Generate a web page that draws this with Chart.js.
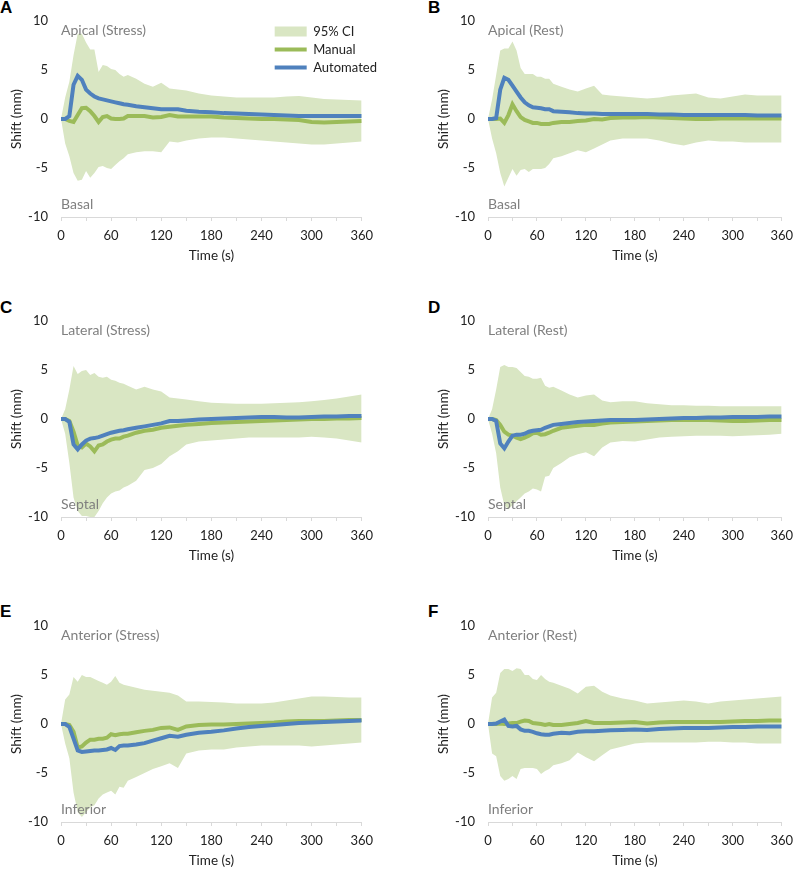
<!DOCTYPE html>
<html>
<head>
<meta charset="utf-8">
<script src="https://cdn.jsdelivr.net/npm/chart.js@4.4.0/dist/chart.umd.min.js"></script>
<style>
  html, body { margin: 0; padding: 0; background: #fff; overflow: hidden; }
  body { width: 800px; height: 869px; position: relative; }
  canvas { position: absolute; }
  .letter { position: absolute; font: bold 17px "Liberation Sans", Arial, sans-serif; line-height: 17px; color: #000; }
</style>
</head>
<body>
<div class="letter" style="left:0px;top:-1px">A</div>
<div class="letter" style="left:428px;top:-1px">B</div>
<div class="letter" style="left:0px;top:299px">C</div>
<div class="letter" style="left:428px;top:299px">D</div>
<div class="letter" style="left:0px;top:603px">E</div>
<div class="letter" style="left:428px;top:603px">F</div>

<canvas id="chartA" width="380" height="264" style="left:0px;top:0px"></canvas>
<canvas id="chartB" width="373" height="264" style="left:427px;top:0px"></canvas>
<canvas id="chartC" width="380" height="264" style="left:0px;top:300px"></canvas>
<canvas id="chartD" width="373" height="264" style="left:427px;top:300px"></canvas>
<canvas id="chartE" width="380" height="264" style="left:0px;top:605px"></canvas>
<canvas id="chartF" width="373" height="264" style="left:427px;top:605px"></canvas>

<script>
// sample times (s)
const times = [0, 5, 10, 15, 20, 25, 30, 35, 40, 45, 50, 55, 60, 65, 70, 75, 80,
  90, 100, 110, 120, 130, 140, 150,
  165, 180, 195, 210, 225, 240, 255, 270, 285, 300, 315, 330, 345, 360];

const xTicks = [0, 60, 120, 180, 240, 300, 360];
const yTicks = [-10, -5, 0, 5, 10];

// A - Apical (Stress)
const apicalStressManual = [0, 0, -0.2, -0.3, 0.4, 1.1, 1.15, 0.8, 0.3, -0.3, 0.2, 0.3, 0.05, 0.0, 0.0, 0.05, 0.3,
  0.3, 0.3, 0.15, 0.2, 0.4, 0.25, 0.25,
  0.25, 0.25, 0.15, 0.1, 0.05, 0.0, 0.0, -0.05, -0.1, -0.3, -0.35, -0.3, -0.25, -0.2];
const apicalStressAuto = [0, 0, 0.3, 3.5, 4.4, 4.0, 3.0, 2.6, 2.3, 2.1, 2.0, 1.9, 1.8, 1.7, 1.6, 1.5, 1.45,
  1.3, 1.2, 1.1, 1.0, 1.0, 1.0, 0.85,
  0.75, 0.7, 0.6, 0.55, 0.5, 0.45, 0.4, 0.35, 0.3, 0.3, 0.3, 0.3, 0.3, 0.3];
const apicalStressUpper = [0, 2.2, 3.8, 6.5, 8.7, 8.7, 7.8, 7.1, 7.1, 4.8, 5.5, 5.4, 5.1, 5.0, 4.6, 4.3, 4.5,
  4.1, 3.6, 3.3, 3.7, 3.1, 3.0, 2.9,
  2.6, 2.4, 2.3, 2.2, 2.2, 2.2, 2.2, 2.3, 2.35, 2.2, 2.05, 2.0, 1.95, 1.9];
const apicalStressLower = [0, -2.5, -3.8, -5.5, -6.3, -6.2, -5.3, -6.0, -5.5, -4.9, -4.8, -5.0, -5.1, -4.7, -4.3, -4.0, -3.6,
  -3.4, -3.3, -3.3, -3.4, -2.3, -2.4, -2.2,
  -2.0, -1.9, -1.9, -2.0, -2.1, -2.2, -2.3, -2.4, -2.5, -2.6, -2.6, -2.5, -2.4, -2.3];

// B - Apical (Rest)
const apicalRestManual = [0, 0, 0, 0.05, -0.4, 0.4, 1.5, 0.8, 0.2, -0.1, -0.25, -0.4, -0.4, -0.5, -0.5, -0.5, -0.4,
  -0.3, -0.3, -0.2, -0.15, 0.0, -0.05, 0.1,
  0.15, 0.15, 0.2, 0.15, 0.1, 0.05, 0.0, 0.0, 0.05, 0.05, 0.05, 0.05, 0.05, 0.05];
const apicalRestAuto = [0, 0, 0.1, 3.0, 4.2, 4.0, 3.4, 2.8, 2.2, 1.7, 1.4, 1.2, 1.15, 1.1, 1.0, 1.0, 0.8,
  0.75, 0.7, 0.6, 0.55, 0.55, 0.5, 0.5,
  0.5, 0.5, 0.5, 0.45, 0.45, 0.4, 0.4, 0.4, 0.4, 0.4, 0.4, 0.35, 0.35, 0.35];
const apicalRestUpper = [0, 2.0, 4.5, 7.0, 7.2, 7.2, 7.9, 7.0, 5.2, 4.6, 4.6, 4.6, 4.3, 4.3, 4.1, 4.1, 3.6,
  3.3, 3.0, 2.8, 3.1, 3.4, 2.5, 2.4,
  2.3, 2.2, 2.1, 2.2, 2.4, 2.5, 2.6, 2.2, 2.1, 2.3, 2.5, 2.4, 2.4, 2.4];
const apicalRestLower = [0, -2.0, -3.5, -5.5, -6.9, -6.0, -5.1, -5.8, -5.2, -5.1, -5.4, -5.1, -5.1, -5.1, -5.0, -4.6, -4.0,
  -3.8, -3.5, -3.2, -3.4, -3.0, -2.6, -2.2,
  -2.0, -2.0, -2.0, -2.2, -2.5, -2.7, -2.4, -2.2, -2.3, -2.3, -2.4, -2.4, -2.4, -2.4];

// C - Lateral (Stress)
const lateralStressManual = [0, 0, -0.2, -1.3, -2.7, -2.9, -2.5, -2.8, -3.3, -2.7, -2.6, -2.3, -2.1, -2.0, -2.0, -1.8, -1.7,
  -1.4, -1.2, -1.1, -0.9, -0.8, -0.7, -0.6,
  -0.5, -0.4, -0.35, -0.3, -0.25, -0.2, -0.15, -0.1, -0.05, 0.0, 0.0, 0.05, 0.05, 0.1];
const lateralStressAuto = [0, 0, -0.3, -2.6, -3.1, -2.6, -2.2, -2.0, -1.95, -1.85, -1.7, -1.55, -1.4, -1.3, -1.2, -1.15, -1.05,
  -0.9, -0.75, -0.6, -0.45, -0.2, -0.2, -0.15,
  -0.05, 0.0, 0.05, 0.1, 0.15, 0.2, 0.2, 0.15, 0.15, 0.2, 0.25, 0.25, 0.3, 0.3];
const lateralStressUpper = [0, 1.0, 3.0, 5.4, 4.6, 4.9, 5.0, 4.5, 4.7, 4.3, 4.2, 4.3, 4.0, 3.9, 3.7, 3.6, 3.4,
  3.0, 3.3, 3.0, 2.8, 2.2, 2.1, 2.0,
  1.8, 1.65, 1.6, 1.55, 1.55, 1.55, 1.6, 1.65, 1.7, 1.8, 1.95, 2.1, 2.3, 2.5];
const lateralStressLower = [0, -1.5, -4.5, -8.0, -9.4, -9.9, -9.9, -10, -10, -9.4, -8.6, -8.0, -7.6, -7.4, -7.3, -7.0, -6.8,
  -6.3, -5.2, -5.0, -4.6, -3.8, -3.3, -2.6,
  -2.3, -2.2, -2.1, -2.0, -1.9, -1.9, -1.9, -1.9, -1.9, -1.8, -1.9, -2.0, -2.2, -2.4];

// D - Lateral (Rest)
const lateralRestManual = [0, 0, -0.1, -0.6, -1.3, -1.6, -1.7, -1.9, -2.05, -1.9, -1.7, -1.45, -1.4, -1.6, -1.55, -1.4, -1.2,
  -0.9, -0.8, -0.7, -0.6, -0.6, -0.45, -0.35,
  -0.3, -0.25, -0.2, -0.15, -0.1, -0.1, -0.1, -0.1, -0.15, -0.2, -0.2, -0.15, -0.1, -0.1];
const lateralRestAuto = [0, 0, -0.2, -2.5, -3.0, -2.3, -1.7, -1.6, -1.6, -1.5, -1.3, -1.2, -1.15, -1.1, -0.9, -0.75, -0.6,
  -0.5, -0.4, -0.3, -0.25, -0.2, -0.15, -0.1,
  -0.1, -0.1, -0.05, 0.0, 0.05, 0.1, 0.1, 0.15, 0.15, 0.2, 0.2, 0.2, 0.25, 0.25];
const lateralRestUpper = [0, 1.0, 3.0, 5.3, 5.5, 5.3, 5.3, 5.2, 4.8, 4.4, 4.3, 4.1, 4.1, 4.2, 3.4, 3.2, 3.3,
  2.9, 2.5, 2.2, 2.4, 2.5, 1.9, 1.7,
  1.8, 1.8, 1.6, 1.5, 1.4, 1.4, 1.35, 1.35, 1.3, 1.3, 1.3, 1.3, 1.3, 1.3];
const lateralRestLower = [0, -1.5, -3.5, -7.0, -8.8, -9.2, -8.8, -8.4, -8.0, -7.6, -7.4, -7.1, -7.2, -7.4, -5.9, -5.8, -5.0,
  -4.5, -3.9, -3.6, -3.4, -3.8, -2.9, -2.4,
  -2.25, -2.3, -2.1, -1.9, -1.8, -1.75, -1.7, -1.7, -1.7, -1.75, -1.7, -1.65, -1.6, -1.5];

// E - Anterior (Stress)
const anteriorStressManual = [0, 0, -0.1, -0.8, -2.4, -2.3, -1.9, -1.6, -1.6, -1.5, -1.5, -1.4, -1.05, -1.15, -1.05, -1.0, -1.0,
  -0.85, -0.7, -0.6, -0.4, -0.35, -0.6, -0.25,
  -0.1, -0.05, -0.05, 0.0, 0.05, 0.1, 0.15, 0.25, 0.3, 0.3, 0.3, 0.35, 0.4, 0.4];
const anteriorStressAuto = [0, 0, -0.3, -1.5, -2.7, -2.85, -2.8, -2.75, -2.7, -2.7, -2.65, -2.6, -2.45, -2.65, -2.25, -2.2, -2.2,
  -2.1, -1.95, -1.7, -1.45, -1.2, -1.3, -1.1,
  -0.9, -0.8, -0.65, -0.45, -0.3, -0.2, -0.1, 0.0, 0.1, 0.15, 0.2, 0.25, 0.3, 0.35];
const anteriorStressUpper = [0, 2.5, 3.0, 4.8, 4.3, 5.0, 4.8, 4.8, 4.6, 4.4, 4.2, 4.0, 4.3, 4.9, 4.2, 4.0, 3.9,
  3.7, 3.5, 3.4, 3.3, 3.2, 2.9, 2.3,
  2.3, 2.25, 2.2, 2.1, 2.1, 2.1, 2.2, 2.4, 2.6, 2.8, 2.8, 2.75, 2.7, 2.7];
const anteriorStressLower = [0, -2.0, -3.5, -7.0, -9.0, -9.5, -9.0, -8.5, -8.3, -7.6, -7.2, -7.0, -6.8, -7.2, -6.4, -6.5, -5.8,
  -5.4, -5.0, -4.6, -4.3, -4.0, -4.5, -3.0,
  -2.7, -2.6, -2.6, -2.4, -2.3, -2.2, -2.2, -2.2, -2.2, -2.3, -2.2, -2.1, -2.0, -1.9];

// F - Anterior (Rest)
const anteriorRestManual = [0, 0, 0, 0.05, 0.0, 0.05, 0.1, 0.1, 0.25, 0.35, 0.3, 0.1, 0.05, 0.0, -0.1, 0.0, -0.1,
  -0.1, 0.0, 0.1, 0.3, 0.1, 0.1, 0.1,
  0.15, 0.2, 0.05, 0.15, 0.2, 0.2, 0.2, 0.2, 0.2, 0.25, 0.3, 0.3, 0.35, 0.35];
const anteriorRestAuto = [0, 0, 0.05, 0.25, 0.45, -0.2, -0.25, -0.2, -0.55, -0.7, -0.7, -0.8, -0.95, -1.05, -1.1, -1.1, -1.0,
  -0.9, -0.95, -0.8, -0.75, -0.75, -0.7, -0.65,
  -0.6, -0.55, -0.6, -0.5, -0.45, -0.4, -0.4, -0.4, -0.35, -0.3, -0.3, -0.25, -0.25, -0.25];
const anteriorRestUpper = [0, 2.7, 3.2, 5.2, 5.6, 5.6, 5.4, 5.7, 5.6, 5.0, 5.0, 4.6, 4.5, 5.0, 4.6, 4.3, 4.2,
  3.9, 3.6, 3.1, 3.8, 3.9, 3.3, 2.9,
  2.6, 2.4, 2.1, 2.2, 2.3, 2.4, 2.3, 2.1, 2.3, 2.4, 2.5, 2.6, 2.7, 2.8];
const anteriorRestLower = [0, -3.0, -3.3, -5.3, -5.8, -5.6, -5.3, -5.6, -4.6, -4.5, -4.5, -4.5, -4.6, -5.1, -4.8, -4.6, -4.2,
  -4.0, -3.7, -2.9, -3.4, -3.8, -3.2, -2.6,
  -2.3, -2.0, -1.9, -1.9, -1.9, -1.9, -1.9, -1.8, -1.8, -1.9, -1.9, -2.0, -2.0, -2.0];

const GREEN = '#9bbb59';
const BLUE = '#4f81bd';
const BAND = '#d9e6c3';

Chart.defaults.font.family = 'Lato, "Open Sans", sans-serif';
Chart.defaults.color = '#222';

function pts(values) {
  return times.map((t, i) => ({ x: t, y: values[i] }));
}

// region names written inside the plot (top / bottom)
const sideLabels = {
  id: 'sideLabels',
  afterDatasetsDraw(chart, args, opts) {
    const { ctx, chartArea, scales } = chart;
    ctx.save();
    ctx.font = '14px Lato, sans-serif';
    ctx.fillStyle = '#7f7f7f';
    ctx.textBaseline = 'middle';
    ctx.textAlign = 'left';
    ctx.fillText(opts.top, chartArea.left, scales.y.getPixelForValue(9.05));
    ctx.fillText(opts.bottom, chartArea.left, scales.y.getPixelForValue(-8.7));
    ctx.restore();
  }
};

// move the legend to the upper right corner of the plot
const legendSpot = {
  id: 'legendSpot',
  afterLayout(chart) {
    const lg = chart.legend;
    if (!lg || !lg.options.display) return;
    const pad = lg.options.labels.padding;
    const w = lg.right - lg.left;
    lg.left = chart.chartArea.right - 87 - pad;
    lg.right = lg.left + w;
    lg.top = chart.chartArea.top - 1;
  }
};

const panels = [
  { id: 'chartA', top: 'Apical (Stress)', bottom: 'Basal', manual: apicalStressManual, auto: apicalStressAuto, upper: apicalStressUpper, lower: apicalStressLower, legend: true },
  { id: 'chartB', top: 'Apical (Rest)', bottom: 'Basal', manual: apicalRestManual, auto: apicalRestAuto, upper: apicalRestUpper, lower: apicalRestLower },
  { id: 'chartC', top: 'Lateral (Stress)', bottom: 'Septal', manual: lateralStressManual, auto: lateralStressAuto, upper: lateralStressUpper, lower: lateralStressLower },
  { id: 'chartD', top: 'Lateral (Rest)', bottom: 'Septal', manual: lateralRestManual, auto: lateralRestAuto, upper: lateralRestUpper, lower: lateralRestLower },
  { id: 'chartE', top: 'Anterior (Stress)', bottom: 'Inferior', manual: anteriorStressManual, auto: anteriorStressAuto, upper: anteriorStressUpper, lower: anteriorStressLower },
  { id: 'chartF', top: 'Anterior (Rest)', bottom: 'Inferior', manual: anteriorRestManual, auto: anteriorRestAuto, upper: anteriorRestUpper, lower: anteriorRestLower }
];

function buildChart(p) {
  const canvas = document.getElementById(p.id);
  const plotRight = 362;

  new Chart(canvas, {
    type: 'line',
    data: {
      datasets: [
        {
          label: '95% CI', data: pts(p.upper), fill: '+1', order: 2,
          backgroundColor: BAND, borderColor: 'rgba(0,0,0,0)', borderWidth: 0,
          pointRadius: 0, pointStyle: 'rect', pointBackgroundColor: BAND, pointBorderWidth: 0
        },
        {
          label: 'lower', data: pts(p.lower), fill: false, order: 3,
          borderColor: 'rgba(0,0,0,0)', borderWidth: 0, pointRadius: 0
        },
        {
          label: 'Manual', data: pts(p.manual), fill: false, order: 1,
          borderColor: GREEN, borderWidth: 4, tension: 0,
          pointRadius: 0, pointStyle: 'line', pointBorderColor: GREEN, pointBorderWidth: 4
        },
        {
          label: 'Automated', data: pts(p.auto), fill: false, order: 0,
          borderColor: BLUE, borderWidth: 4, tension: 0,
          pointRadius: 0, pointStyle: 'line', pointBorderColor: BLUE, pointBorderWidth: 4
        }
      ]
    },
    options: {
      responsive: false,
      animation: false,
      events: [],
      layout: { padding: { top: 21, right: canvas.width - plotRight, bottom: 0, left: 0 } },
      plugins: {
        filler: { drawTime: 'beforeDatasetsDraw' },
        tooltip: { enabled: false },
        legend: {
          display: !!p.legend,
          position: 'chartArea',
          align: 'start',
          labels: {
            usePointStyle: true,
            pointStyleWidth: 32,
            boxHeight: 10,
            padding: 5,
            color: '#222',
            font: { size: 13 },
            filter: (item) => item.text !== 'lower',
            sort: (a, b) => a.datasetIndex - b.datasetIndex
          }
        },
        sideLabels: { top: p.top, bottom: p.bottom }
      },
      scales: {
        x: {
          type: 'linear',
          min: 0,
          max: 360,
          afterFit: (s) => { s.height = 47; },
          grid: { drawOnChartArea: false, drawTicks: true, tickLength: 4, color: '#d9d9d9' },
          border: { color: '#d9d9d9', width: 1 },
          ticks: {
            stepSize: 30,
            autoSkip: false,
            maxRotation: 0,
            padding: 7,
            font: { size: 13 },
            callback: (v) => xTicks.includes(v) ? String(v) : ''
          },
          title: { display: true, text: 'Time (s)', font: { size: 13.5 }, padding: { top: 0, bottom: 0 } }
        },
        y: {
          min: yTicks[0],
          max: yTicks[yTicks.length - 1],
          afterFit: (s) => { s.width = 61; },
          afterBuildTicks: (s) => { s.ticks = yTicks.map((v) => ({ value: v })); },
          grid: { display: false, drawTicks: false },
          border: { display: false },
          ticks: { padding: 13, font: { size: 13 } },
          title: { display: true, text: 'Shift (mm)', font: { size: 13.5 }, padding: { top: 9, bottom: 0 } }
        }
      }
    },
    plugins: [sideLabels, legendSpot]
  });
}

panels.forEach(buildChart);
</script>
</body>
</html>
